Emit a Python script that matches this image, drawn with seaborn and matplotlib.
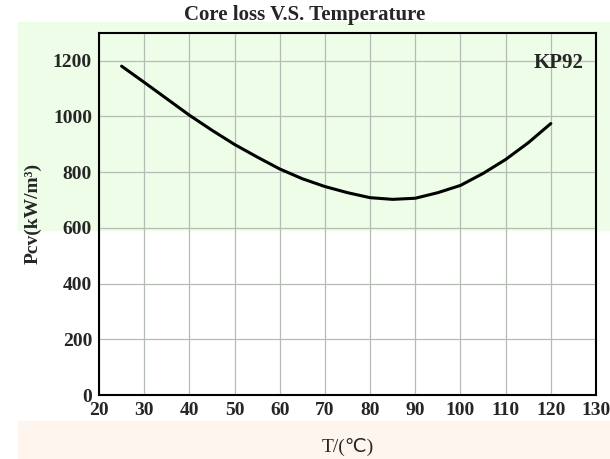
import matplotlib
matplotlib.use("Agg")
import matplotlib.pyplot as plt
import seaborn as sns
import pandas as pd
from matplotlib.patches import Rectangle

# data
temperature = [25, 30, 35, 40, 45, 50, 55, 60, 65, 70, 75, 80, 85, 90, 95,
               100, 105, 110, 115, 120]
core_loss = [1180, 1122, 1063, 1004, 950, 899, 854, 811, 776, 748, 726, 708,
             702, 706, 726, 752, 795, 845, 905, 974]
x_ticks = list(range(20, 131, 10))
y_ticks = [0, 200, 400, 600, 800, 1000, 1200]

sns.set_theme(style="white")
plt.rcParams["font.family"] = ["Liberation Serif", "DejaVu Sans"]
plt.rcParams["font.weight"] = "bold"

W, H = 610, 459
fig = plt.figure(figsize=(W / 100, H / 100), dpi=100)
fig.patch.set_facecolor("white")

# scanned-page background bands
fig.patches.append(Rectangle((18 / W, 1 - 230 / H), 1, (230 - 22) / H,
                             transform=fig.transFigure, color="#eefde8", zorder=-5))
fig.patches.append(Rectangle((18 / W, 0), 1, (H - 421) / H,
                             transform=fig.transFigure, color="#fdf5ee", zorder=-5))

left, right, top, bottom = 99, 596, 32.7, 395
ax = fig.add_axes([left / W, 1 - bottom / H, (right - left) / W, (bottom - top) / H])
ax.set_facecolor("white")
ax.axhspan(591, 1300, color="#eefde8", zorder=0)

df = pd.DataFrame({"T": temperature, "Pcv": core_loss})
sns.lineplot(data=df, x="T", y="Pcv", color="black", linewidth=2.2, ax=ax, zorder=3)

ax.set_xlim(20, 130)
ax.set_ylim(0, 1300)
ax.set_xticks(x_ticks)
ax.set_yticks(y_ticks)
ax.grid(True, color="#b4bdb4", linewidth=0.9)
ax.tick_params(length=0, labelsize=14, pad=5)
for lab in ax.get_xticklabels() + ax.get_yticklabels():
    lab.set_fontweight("bold")
for s in ax.spines.values():
    s.set_color("black")
    s.set_linewidth(1.5)

ax.set_xlabel("T/(℃)", fontsize=14, fontweight="normal", labelpad=14)
ax.set_ylabel("Pcv(kW/m³)", fontsize=14, fontweight="bold", labelpad=8)
ax.text(0.975, 0.945, "KP92", transform=ax.transAxes, ha="right", va="top",
        fontsize=15, fontweight="bold")

fig.text(0.5, 1 - 15 / H, "Core loss V.S. Temperature", ha="center", va="center",
         fontsize=15, fontweight="bold")

fig.savefig("out.png", dpi=100)
